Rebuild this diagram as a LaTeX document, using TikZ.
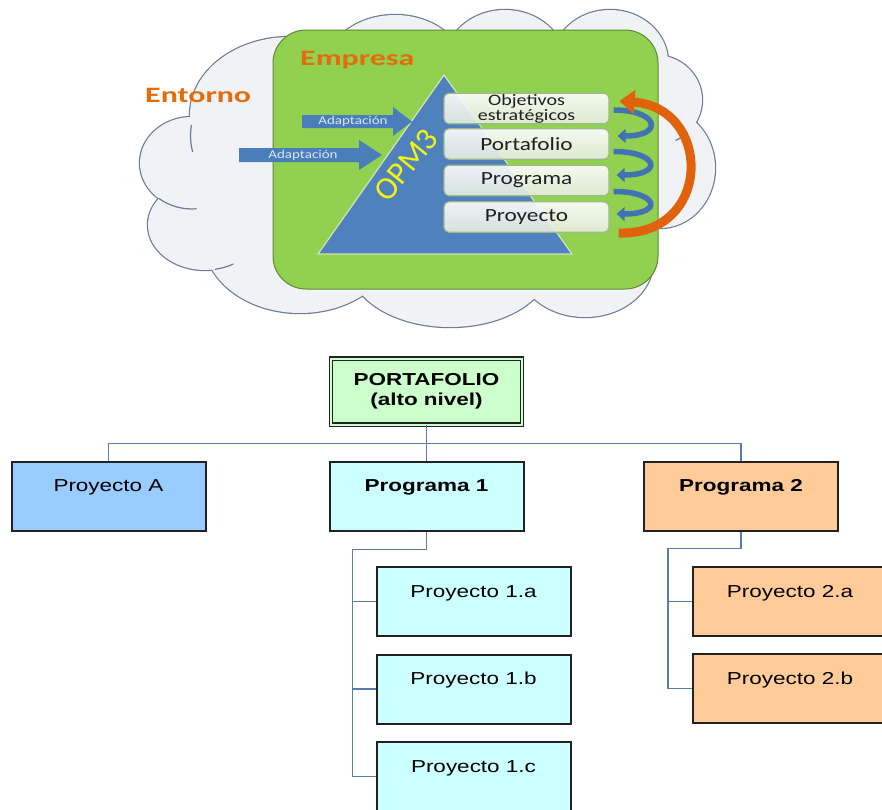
\documentclass[tikz,border=0pt]{standalone}
\usepackage{fontspec}
\setmainfont{Liberation Sans}
\newfontfamily\calib[FakeStretch=1.25]{Carlito}
\newfontfamily\calibwide[FakeStretch=1.45]{Carlito}
\newfontfamily\calibplain{Carlito}
\newfontfamily\arialw[FakeStretch=1.3]{Liberation Sans}
\usetikzlibrary{arrows.meta,calc}

\definecolor{cloudfill}{HTML}{F1F2F5}
\definecolor{cloudline}{HTML}{6B7C96}
\definecolor{empgreen}{HTML}{92D050}
\definecolor{empline}{HTML}{5F8A35}
\definecolor{orangetxt}{HTML}{E46C0A}
\definecolor{pyrblue}{HTML}{4F81BD}
\definecolor{pyredge}{HTML}{D2E6B8}
\definecolor{adaptblue}{HTML}{4A7EBB}
\definecolor{adapttxt}{HTML}{DCE6F2}
\definecolor{opmyellow}{HTML}{F4F40F}
\definecolor{lvlline}{HTML}{9CB98A}
\definecolor{lvlshade}{HTML}{E6ECE0}
\definecolor{lvltext}{HTML}{202020}
\definecolor{turnblue}{HTML}{4173B4}
\definecolor{arcorange}{HTML}{E0620D}
\definecolor{pfgreen}{HTML}{CCFFCC}
\definecolor{pablue}{HTML}{99CCFF}
\definecolor{p1cyan}{HTML}{CCFFFF}
\definecolor{p2orange}{HTML}{FFCC99}
\definecolor{linkblue}{HTML}{5A7CAB}
\definecolor{boxedge}{HTML}{222222}

\tikzset{
  lvlbox/.style={draw=lvlline, line width=1.2pt, rounded corners=5pt,
    top color=white, bottom color=lvlshade, fill opacity=0.9, text opacity=1,
    minimum width=165pt, minimum height=30.5pt, inner sep=0pt, text=lvltext,
    font=\calib\fontsize{18.6pt}{20pt}\selectfont},
  adapttext/.style={text=adapttxt, inner sep=0pt,
    font=\calib\fontsize{12pt}{13pt}\selectfont},
  titletext/.style={text=orangetxt, inner sep=0pt, anchor=base west,
    font=\calibwide\bfseries\fontsize{22pt}{24pt}\selectfont},
  turn/.style={draw=turnblue, line width=5.5pt, -{Triangle[length=8pt,width=14pt]}},
  bigarc/.style={draw=arcorange, line width=9pt, -{Triangle[length=15pt,width=24pt]}},
  hook/.style={draw=cloudline, line width=1.2pt},
  orgbox/.style={draw=boxedge, line width=2pt, minimum width=194pt,
    minimum height=69pt, inner sep=0pt, text height=30pt, text depth=39pt,
    font=\arialw\fontsize{17.3pt}{20pt}\selectfont},
  orgbold/.style={orgbox, font=\arialw\bfseries\fontsize{17.3pt}{20pt}\selectfont},
  link/.style={draw=linkblue, line width=1.6pt},
}

\begin{document}
\begin{tikzpicture}[x=1pt,y=-1pt]
\useasboundingbox (0,0) rectangle (882,809);
\clip (0,0) rectangle (882,809);
\fill[white] (0,0) rectangle (882,809);

% ---------- cloud: outline pass, then fill pass leaves only the outer edge
\def\puffs{290/115/100/78, 192/163/52/46, 205/225/57/45, 300/240/96/73,
  450/265/100/62, 585/262/68/55, 395/70/70/55, 505/62/60/52, 610/62/58/52,
  655/100/47/45, 660/168/55/60, 450/170/230/125}
\foreach \cx/\cy/\rx/\ry in \puffs
  \draw[cloudline, line width=2.4pt] (\cx,\cy) ellipse [x radius=\rx pt, y radius=\ry pt];
\foreach \cx/\cy/\rx/\ry in \puffs
  \fill[cloudfill] (\cx,\cy) ellipse [x radius=\rx pt, y radius=\ry pt];
% small inner arcs where the puffs meet
\draw[hook] (191.5,125) arc[start angle=188, end angle=168, x radius=100, y radius=78];
\draw[hook] (158.6,198.2) arc[start angle=130, end angle=85, x radius=52, y radius=46];
\draw[hook] (214.9,269.3) arc[start angle=80, end angle=60, x radius=57, y radius=45];
\draw[hook] (687.6,132.4) arc[start angle=46, end angle=64, x radius=47, y radius=45];

% ---------- company block
\draw[fill=empgreen, draw=empline, line width=1pt, rounded corners=33pt]
  (273,30) rectangle (658,289);

\node[titletext] (entorno) at (145,102) {Entorno};
\node[titletext] (empresa) at (300,65) {Empresa};

% ---------- pyramid
\coordinate (tl) at (318,254);
\coordinate (tt) at (444,75);
\coordinate (tr) at (572,254);
\filldraw[fill=pyrblue, draw=pyredge, line width=1.2pt] (tl) -- (tt) -- (tr) -- cycle;

\node[text=opmyellow, rotate=51, inner sep=0pt,
  font=\calibplain\fontsize{32pt}{34pt}\selectfont] (opm) at (406,165) {OPM3};

% ---------- adaptation arrows
\fill[adaptblue] (302,115) -- (393,115) -- (393,107) -- (412,121.5) -- (393,136)
  -- (393,128) -- (302,128) -- cycle;
\node[adapttext] (ad1) at (353,121.5) {Adaptación};
\fill[adaptblue] (239,148) -- (359,148) -- (359,140) -- (382,155) -- (359,170)
  -- (359,162) -- (239,162) -- cycle;
\node[adapttext] (ad2) at (303,155) {Adaptación};

% ---------- levels
\node[lvlbox, align=center, font=\calib\fontsize{16pt}{13.5pt}\selectfont]
  (lv1) at (526.5,108.5) {Objetivos\\estratégicos};
\node[lvlbox] (lv2) at (526.5,144) {Portafolio};
\node[lvlbox] (lv3) at (526.5,180.5) {Programa};
\node[lvlbox] (lv4) at (526.5,217) {Proyecto};

% cascading arrows between levels
\draw[turn] ($(lv1.east)+(4,1.5)$) .. controls +(45,0) and +(47,0) .. ($(lv2.east)+(8,-8)$);
\draw[turn] ($(lv2.east)+(4,7.5)$) .. controls +(45,0) and +(47,0) .. ($(lv3.east)+(7,-5.5)$);
\draw[turn] ($(lv3.east)+(4,11)$) .. controls +(45,0) and +(47,0) .. ($(lv4.east)+(7,-3)$);

% feedback arrow from the bottom level back to the top
\draw[bigarc] ($(lv4.east)+(9,16)$) .. controls +(94,3) and +(93,7) .. ($(lv1.east)+(10,-7.5)$);

% ---------- portfolio tree
\node[orgbold, draw=boxedge, double=pfgreen, double distance=2pt, line width=1.3pt,
  fill=pfgreen, minimum width=191pt, minimum height=66pt, text height=, text depth=,
  align=center, font=\arialw\bfseries\fontsize{17.3pt}{20pt}\selectfont]
  (pf) at (426.5,391.5) {PORTAFOLIO\\(alto nivel)};

\node[orgbox, fill=pablue] (pa) at (108.5,496) {Proyecto A};
\node[orgbold, fill=p1cyan] (p1) at (426.5,496) {Programa 1};
\node[orgbold, fill=p2orange] (p2) at (741,496) {Programa 2};

\node[orgbox, fill=p1cyan] (c1a) at (473.5,601.5) {Proyecto 1.a};
\node[orgbox, fill=p1cyan] (c1b) at (473.5,689) {Proyecto 1.b};
\node[orgbox, fill=p1cyan] (c1c) at (473.5,776.5) {Proyecto 1.c};

\node[orgbox, fill=p2orange] (c2a) at (790,601.5) {Proyecto 2.a};
\node[orgbox, fill=p2orange] (c2b) at (790,688.5) {Proyecto 2.b};

\coordinate (bus) at (426.5,443.5);
\draw[link] (pf.south) -- (p1.north);
\draw[link] (pa.north) |- (bus) -| (p2.north);

\coordinate (k1) at (352.5,549.5);
\draw[link] (p1.south) |- (k1) -- (k1 |- c1c.west) -- (c1c.west);
\draw[link] (k1 |- c1a.west) -- (c1a.west);
\draw[link] (k1 |- c1b.west) -- (c1b.west);

\coordinate (k2) at (668,548.5);
\draw[link] (p2.south) |- (k2) -- (k2 |- c2b.west) -- (c2b.west);
\draw[link] (k2 |- c2a.west) -- (c2a.west);
\end{tikzpicture}
\end{document}
